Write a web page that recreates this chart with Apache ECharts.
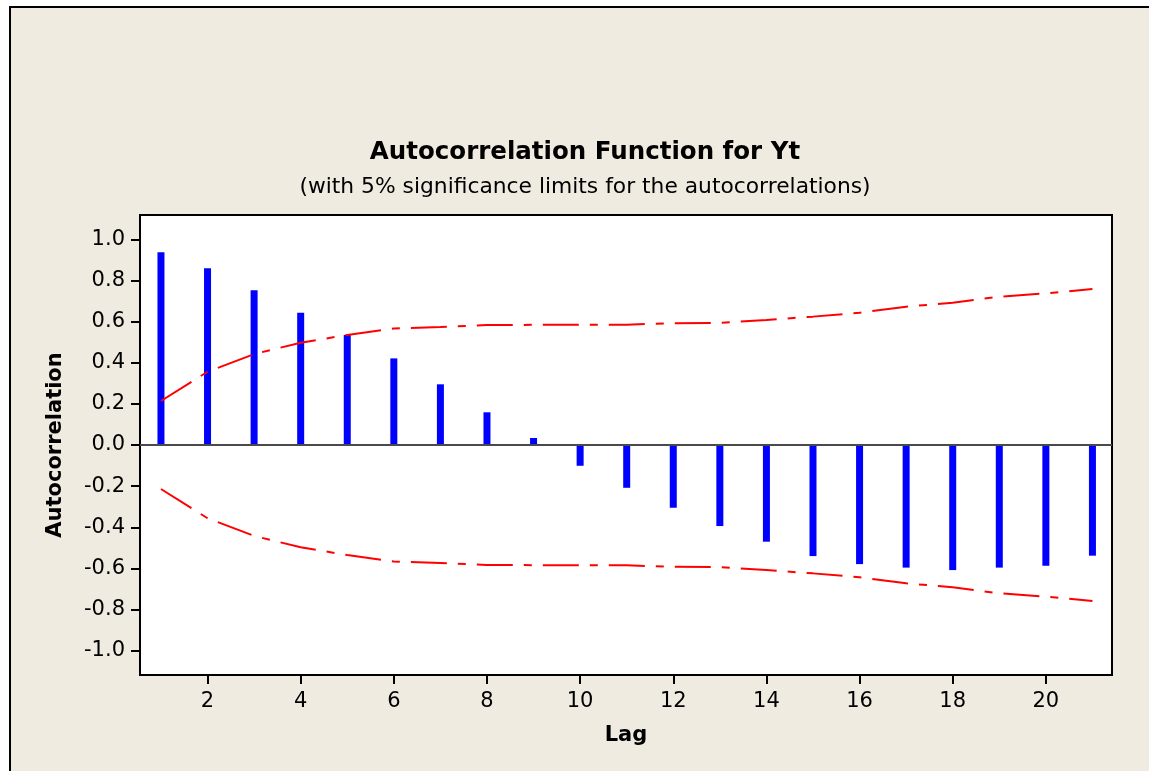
<!DOCTYPE html>
<html>
<head>
<meta charset="utf-8">
<script src="https://cdn.jsdelivr.net/npm/echarts@6/dist/echarts.min.js"></script>
<style>
html,body{margin:0;padding:0;background:#ffffff;overflow:hidden;}
#frame{position:absolute;left:9px;top:6px;width:1200px;height:820px;border:2px solid #000;background:#EFEBE0;}
#chart{position:absolute;left:0;top:0;width:1149px;height:771px;}
</style>
</head>
<body>
<div id="frame"></div>
<div id="chart"></div>
<script>
const lags = [1,2,3,4,5,6,7,8,9,10,11,12,13,14,15,16,17,18,19,20,21];
const acf = [0.937,0.859,0.752,0.643,0.535,0.421,0.295,0.159,0.034,-0.101,-0.208,-0.305,-0.394,-0.470,-0.540,-0.579,-0.596,-0.608,-0.596,-0.587,-0.538];
const upperLimit = [0.214,0.356,0.442,0.497,0.535,0.566,0.574,0.583,0.584,0.584,0.585,0.592,0.594,0.608,0.624,0.643,0.672,0.692,0.721,0.737,0.758];
const lowerLimit = upperLimit.map(v => -v);
const xTicks = [2,4,6,8,10,12,14,16,18,20];
const yTicks = [-1.0,-0.8,-0.6,-0.4,-0.2,0.0,0.2,0.4,0.6,0.8,1.0];
const titleText = 'Autocorrelation Function for Yt';
const subtitleText = '(with 5% significance limits for the autocorrelations)';

const FONT = 'DejaVu Sans';
const chart = echarts.init(document.getElementById('chart'), null, {renderer:'canvas'});
const dash = [36, 11, 8, 11];
chart.setOption({
  backgroundColor: 'transparent',
  animation: false,
  title: [
    {text: titleText, left: 580, top: 135, textAlign: 'center',
     textStyle:{fontFamily:FONT, fontWeight:'bold', fontSize:24.5, color:'#000'}},
    {text: subtitleText, left: 580, top: 171, textAlign: 'center',
     textStyle:{fontFamily:FONT, fontWeight:'normal', fontSize:21.8, color:'#000'}}
  ],
  grid: {left:140, top:215, right:37, bottom:96, show:true, backgroundColor:'#ffffff', borderColor:'#000', borderWidth:2},
  xAxis: {
    type:'value', min:0.55, max:21.42,
    name:'Lag', nameLocation:'middle', nameGap:50,
    nameTextStyle:{fontFamily:FONT, fontWeight:'bold', fontSize:21, color:'#000'},
    axisLine:{show:true, onZero:false, lineStyle:{color:'#000', width:2}},
    axisTick:{show:true, length:9, lineStyle:{color:'#000', width:2}, customValues:xTicks},
    axisLabel:{fontFamily:FONT, fontSize:21, color:'#000', margin:16, customValues:xTicks},
    splitLine:{show:false}
  },
  yAxis: {
    type:'value', min:-1.118, max:1.118,
    name:'Autocorrelation', nameLocation:'middle', nameGap:74, nameRotate:90,
    nameTextStyle:{fontFamily:FONT, fontWeight:'bold', fontSize:21, color:'#000'},
    axisLine:{show:true, lineStyle:{color:'#000', width:2}},
    axisTick:{show:true, length:9, lineStyle:{color:'#000', width:2}, customValues:yTicks},
    axisLabel:{fontFamily:FONT, fontSize:21, color:'#000', margin:15, customValues:yTicks,
      formatter: v => Number(v).toFixed(1)},
    splitLine:{show:false}
  },
  series: [
    {type:'bar', data: lags.map((l,i)=>[l, acf[i]]), barWidth:7, itemStyle:{color:'#0000FF'},
     markLine:{silent:true, symbol:'none', label:{show:false}, lineStyle:{color:'#4a4a4a', width:2, type:'solid'}, data:[{yAxis:0}]}, z:2},
    {type:'line', data: lags.map((l,i)=>[l, upperLimit[i]]), showSymbol:false, symbol:'none',
     lineStyle:{color:'#FF0000', width:2, type:dash}, z:3},
    {type:'line', data: lags.map((l,i)=>[l, lowerLimit[i]]), showSymbol:false, symbol:'none',
     lineStyle:{color:'#FF0000', width:2, type:dash}, z:3}
  ]
});
</script>
</body>
</html>
